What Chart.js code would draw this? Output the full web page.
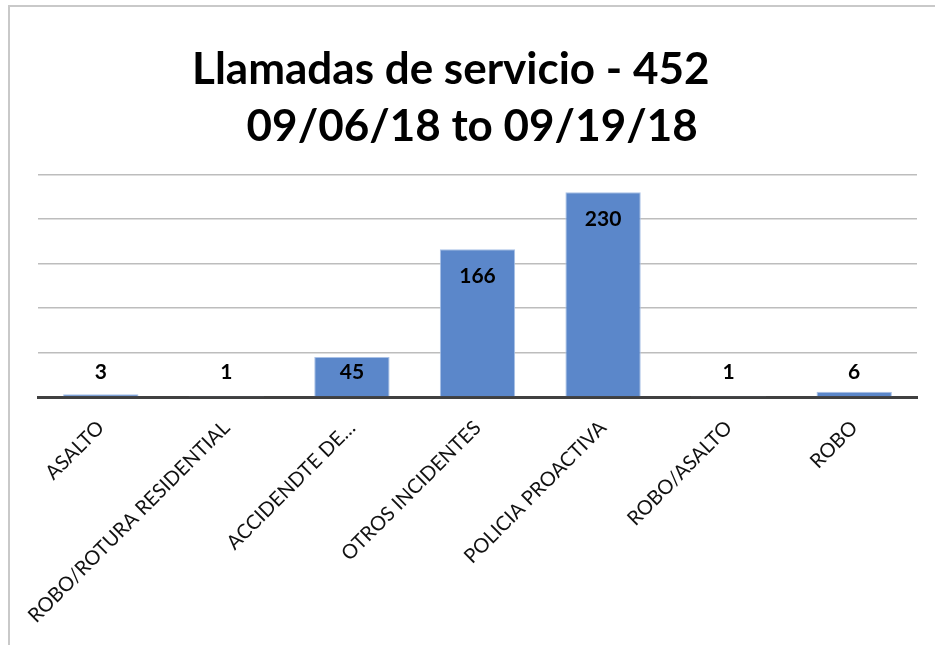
<!DOCTYPE html>
<html>
<head>
    <title>Llamadas de servicio</title>
    <script src="https://cdn.jsdelivr.net/npm/chart.js"></script>
    <style>
        html, body { margin: 0; padding: 0; background: #fff; }
        .frame {
            position: absolute; left: 8px; top: 5px;
            width: 927px; height: 640px;
            border-left: 2px solid #c9c9c9; border-top: 2px solid #c9c9c9;
        }
        .frame canvas { display: block; }
    </style>
</head>
<body>
    <div class="frame">
        <canvas id="callsChart" width="925" height="638"></canvas>
    </div>

    <script>
        // Data
        const categories = ['ASALTO', 'ROBO/ROTURA RESIDENTIAL', 'ACCIDENDTE DE…', 'OTROS INCIDENTES',
                            'POLICIA PROACTIVA', 'ROBO/ASALTO', 'ROBO'];
        const calls = [3, 1, 45, 166, 230, 1, 6];
        const nb = '\u00a0';
        const titleLines = ['Llamadas de servicio - 452' + nb.repeat(5), '09/06/18 to 09/19/18' + nb];

        const fontFamily = "Lato, 'Open Sans', sans-serif";

        // value labels near the top of each bar, kept above the axis for short bars
        const valueLabels = {
            id: 'valueLabels',
            afterDatasetsDraw(chart) {
                const ctx = chart.ctx;
                const meta = chart.getDatasetMeta(0);
                ctx.save();
                ctx.font = 'bold 21px ' + fontFamily;
                ctx.fillStyle = '#000';
                ctx.textAlign = 'center';
                ctx.textBaseline = 'middle';
                meta.data.forEach((bar, i) => {
                    const y = Math.min(bar.y + 27, bar.base - 24);
                    ctx.fillText(String(calls[i]), bar.x, y);
                });
                ctx.restore();
            }
        };

        const ctx = document.getElementById('callsChart').getContext('2d');
        new Chart(ctx, {
            type: 'bar',
            data: {
                labels: categories,
                datasets: [{
                    label: 'Llamadas',
                    data: calls,
                    backgroundColor: '#5b87ca',
                    borderColor: '#a9c1e6',
                    borderWidth: 1,
                    barPercentage: 0.6,
                    categoryPercentage: 1.0
                }]
            },
            options: {
                responsive: false,
                animation: false,
                layout: { padding: { left: 28, right: 18, top: 0, bottom: 0 } },
                plugins: {
                    legend: { display: false },
                    tooltip: { enabled: false },
                    title: {
                        display: true,
                        text: titleLines,
                        color: '#000',
                        font: { family: fontFamily, size: 44, weight: 'bold', lineHeight: 1.3 },
                        padding: { top: 34, bottom: 19 }
                    }
                },
                scales: {
                    x: {
                        grid: { display: false },
                        border: { display: true, color: '#404040', width: 3 },
                        ticks: {
                            color: '#111',
                            font: { family: fontFamily, size: 20 },
                            minRotation: 45,
                            maxRotation: 45,
                            autoSkip: false,
                            padding: 11
                        },
                        afterFit(scale) { scale.height = 248; }
                    },
                    y: {
                        min: 0,
                        max: 250,
                        ticks: { display: false, stepSize: 50 },
                        border: { display: false },
                        grid: { color: '#bdbdbd', lineWidth: 1.5, drawTicks: false }
                    }
                }
            },
            plugins: [valueLabels]
        });
    </script>
</body>
</html>
